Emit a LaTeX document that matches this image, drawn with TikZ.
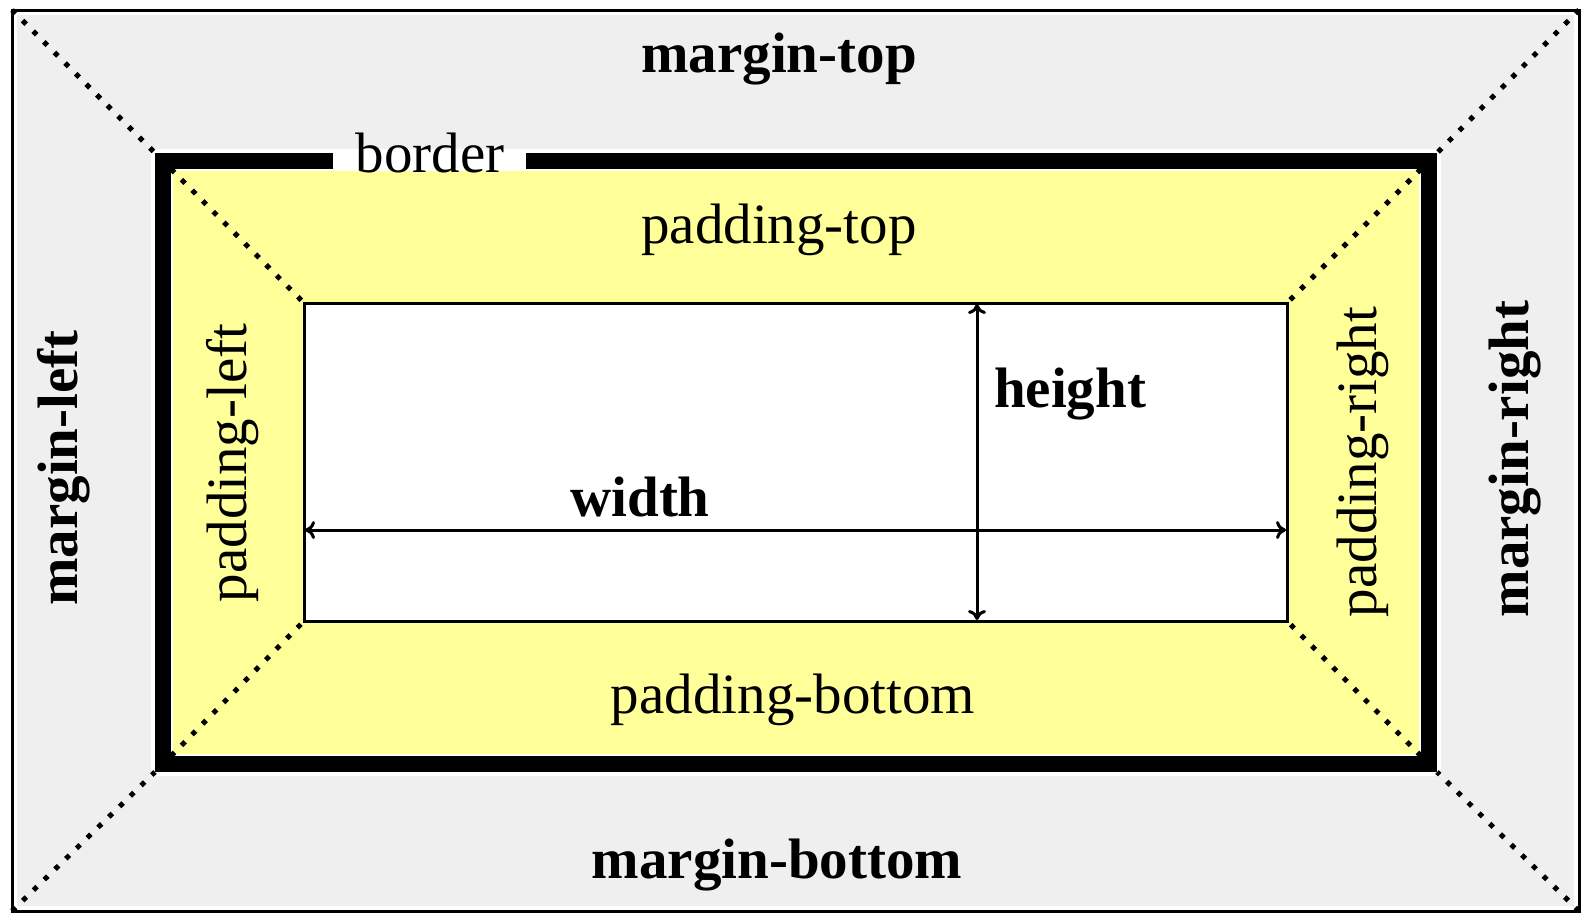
\documentclass[tikz,border=0pt]{standalone}
\usepackage{fontspec}
\setmainfont{Liberation Serif}
\usetikzlibrary{arrows.meta}
\definecolor{margingray}{RGB}{239,239,239}
\definecolor{padyellow}{RGB}{255,255,153}
\tikzset{
  lbl/.style={inner sep=0pt, font=\fontsize{57}{60}\selectfont},
  blbl/.style={inner sep=0pt, font=\fontsize{57}{60}\selectfont\bfseries},
  dotline/.style={line width=5pt, dash pattern=on 5pt off 10pt},
  dimarrow/.style={line width=3pt, {To[length=10pt,width=18pt]}-{To[length=10pt,width=18pt]}},
}
\begin{document}
\begin{tikzpicture}[x=1pt,y=-1pt]
\useasboundingbox (0,0) rectangle (1587,913);
\fill[white] (0,0) rectangle (1587,913);
% outer margin box
\coordinate (m1) at (12,10);
\coordinate (m2) at (1579,10);
\coordinate (m3) at (1579,911);
\coordinate (m4) at (12,911);
\draw[line width=3pt, fill=white] (m1) rectangle (m3);
\fill[margingray] (17,15) rectangle (1574,906);
% border
\coordinate (b1) at (155,153);
\coordinate (b2) at (1437,153);
\coordinate (b3) at (1437,772);
\coordinate (b4) at (155,772);
\fill[white] (151,149) rectangle (1441,776);
\draw[line width=16pt] (333,161) -- (163,161) -- (163,764) -- (1429,764) -- (1429,161) -- (526,161);
% padding
\coordinate (p1) at (171,169);
\coordinate (p2) at (1421,169);
\coordinate (p3) at (1421,756);
\coordinate (p4) at (171,756);
\fill[padyellow, rounded corners=4pt] (173,171) rectangle (1419,754);
% content
\coordinate (c1) at (304,303);
\coordinate (c2) at (1287,303);
\coordinate (c3) at (1287,621);
\coordinate (c4) at (304,621);
\draw[line width=3pt, fill=white] (c1) rectangle (c3);
% diagonals
\draw[dotline] (m1) -- (b1);
\draw[dotline] (m2) -- (b2);
\draw[dotline] (m3) -- (b3);
\draw[dotline] (m4) -- (b4);
\draw[dotline] (p1) -- (c1);
\draw[dotline] (p2) -- (c2);
\draw[dotline] (p3) -- (c3);
\draw[dotline] (p4) -- (c4);
% dimension arrows
\coordinate (wl) at (305,530);
\coordinate (wr) at (1286,530);
\coordinate (ht) at (977,304);
\coordinate (hb) at (977,620);
\draw[dimarrow] (wl) -- (wr);
\draw[dimarrow] (ht) -- (hb);
% labels
\node[blbl, anchor=base] (mtop) at (779,72) {margin-top};
\node[blbl, anchor=base] (mbot) at (777,878) {margin-bottom};
\node[blbl, anchor=base, rotate=90] (mleft) at (77,468) {margin-left};
\node[blbl, anchor=base, rotate=90] (mright) at (1528,459) {margin-right};
\node[lbl, anchor=base] (brd) at (430,172) {border};
\node[lbl, anchor=base] (ptop) at (779,243) {padding-top};
\node[lbl, anchor=base] (pbot) at (793,713) {padding-bottom};
\node[lbl, anchor=base, rotate=90] (pleft) at (246,463) {padding-left};
\node[lbl, anchor=base, rotate=90] (pright) at (1376,462) {padding-right};
\node[blbl, anchor=base] (wd) at (640,516) {width};
\node[blbl, anchor=base] (hg) at (1070,407) {height};
\end{tikzpicture}
\end{document}
